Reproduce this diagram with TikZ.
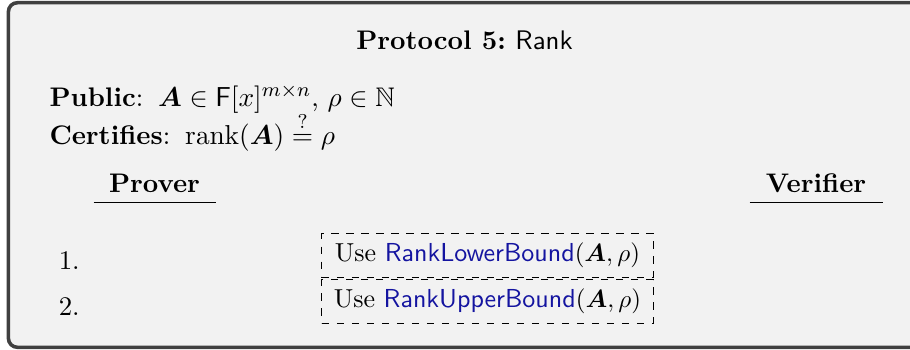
\documentclass[tikz,border=0pt]{standalone}
\usepackage{amsmath,amssymb}
\definecolor{linkblue}{RGB}{20,20,160}
\newcommand\bodyfont{\fontsize{10.75pt}{13pt}\selectfont}
\newcommand\boxfont{\fontsize{10.4pt}{12.5pt}\selectfont}
\begin{document}
\begin{tikzpicture}[x=0.4pt,y=-0.4pt,
  txt/.style={inner sep=0pt, anchor=base west, font=\bodyfont},
  head/.style={inner sep=0pt, anchor=base, font=\bodyfont\bfseries},
  stepbox/.style={draw, dashed, line width=0.4pt, minimum width=132.5pt, inner sep=0pt, font=\boxfont},
  rule/.style={line width=0.5pt}
  ]
\useasboundingbox (0,0) rectangle (910,349);
\clip (0,0) rectangle (910,349);
\draw[line width=1.42pt, draw=black!75, fill=black!5, rounded corners=3.6pt] (8.4,2.7) rectangle (960,347.3);
\node[head] (title) at (464.5,49) {Protocol 5:\hspace{0.35em}\textsf{\mdseries Rank}};
\node[txt] (public) at (49,106) {\textbf{Public}:\hspace{0.55em}$\boldsymbol{A}\in\mathsf{F}[x]^{m\times n}$, $\rho\in\mathbb{N}$};
\node[txt] (cert) at (49,144) {\textbf{Certifies}:\hspace{0.55em}$\operatorname{rank}(\boldsymbol{A})\stackrel{?}{=}\rho$};
\node[head, minimum width=48.4pt] (prover) at (154.5,192) {Prover};
\node[head, minimum width=52.8pt] (verifier) at (816,192) {Verifier};
\draw[rule] ([yshift=-3.9pt]prover.south west) -- ([yshift=-3.9pt]prover.south east);
\draw[rule] ([yshift=-3.9pt]verifier.south west) -- ([yshift=-3.9pt]verifier.south east);
\node[txt] (n1) at (58.3,269) {1.};
\node[txt] (n2) at (58.3,315) {2.};
\node[stepbox, minimum height=17.7pt] (b1) at (487.4,255.4) {Use \textsf{\color{linkblue}RankLowerBound}$(\boldsymbol{A},\rho)$};
\node[stepbox, minimum height=17.5pt] (b2) at (487.4,301.4) {Use \textsf{\color{linkblue}RankUpperBound}$(\boldsymbol{A},\rho)$};
\end{tikzpicture}
\end{document}
